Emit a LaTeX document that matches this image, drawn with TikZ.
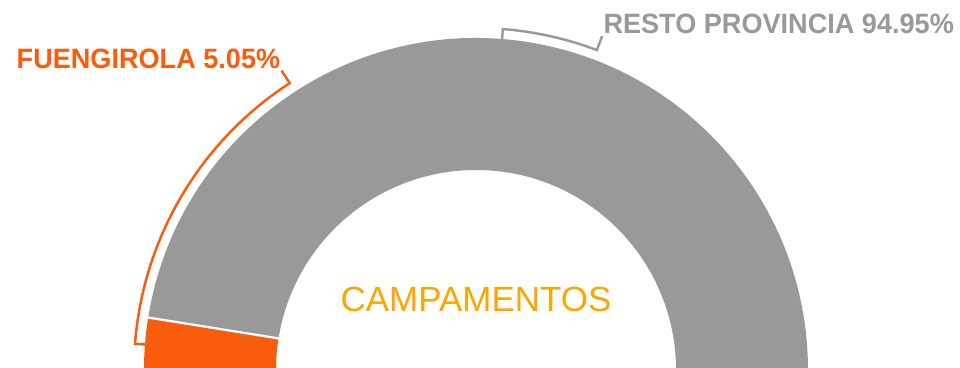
\documentclass[tikz,border=0pt]{standalone}
\usepackage{fontspec}
\setmainfont{Liberation Sans}
\newfontfamily\fuenteEtiqueta[FakeStretch=0.97]{Liberation Sans}

\definecolor{naranjaFuen}{RGB}{249,92,10}
\definecolor{grisResto}{RGB}{153,153,153}
\definecolor{amarilloTit}{RGB}{255,165,0}

\begin{document}
\begin{tikzpicture}[x=0.02cm, y=0.02cm,
    corchete/.style={line width=1.4pt, line join=miter},
    etiqueta/.style={font=\fuenteEtiqueta\fontsize{15.9}{18}\selectfont\bfseries, inner sep=0pt}]

    % Marco de la imagen (centro del anillo en el origen)
    \useasboundingbox (-476,2) rectangle (484,370);

    % Sector gris: resto de la provincia
    \fill[grisResto] (170.91:332) arc (170.91:0:332) -- (0:200) arc (0:170.91:200) -- cycle;

    % Sector naranja: Fuengirola
    \fill[naranjaFuen] (180:332) arc (180:170.91:332) -- (170.91:200) arc (170.91:180:200) -- cycle;

    % Separacion blanca entre sectores
    \draw[white, line width=1.3pt] (170.91:199) -- (170.91:333);

    % Corchete y etiqueta de Fuengirola
    \coordinate (puntaFuen) at (123:357);
    \draw[corchete, naranjaFuen] (175.6:332) -- (175.6:342) arc (175.6:123:342) -- (puntaFuen);
    \node[etiqueta, naranjaFuen, anchor=base east] (fuen) at ([shift={(-1,2)}]puntaFuen) {FUENGIROLA 5.05\%};

    % Corchete y etiqueta del resto de la provincia
    \coordinate (puntaResto) at (69.3:357);
    \draw[corchete, grisResto] (85.5:332) -- (85.5:342) arc (85.5:69.3:342) -- (puntaResto);
    \node[etiqueta, grisResto, anchor=base west] (resto) at ([shift={(1,3)}]puntaResto) {RESTO PROVINCIA 94.95\%};

    % Titulo en el centro
    \node[amarilloTit, anchor=base, inner sep=0pt, font=\fontsize{19.9}{22}\selectfont] (titulo) at (0,58) {CAMPAMENTOS};

\end{tikzpicture}
\end{document}
